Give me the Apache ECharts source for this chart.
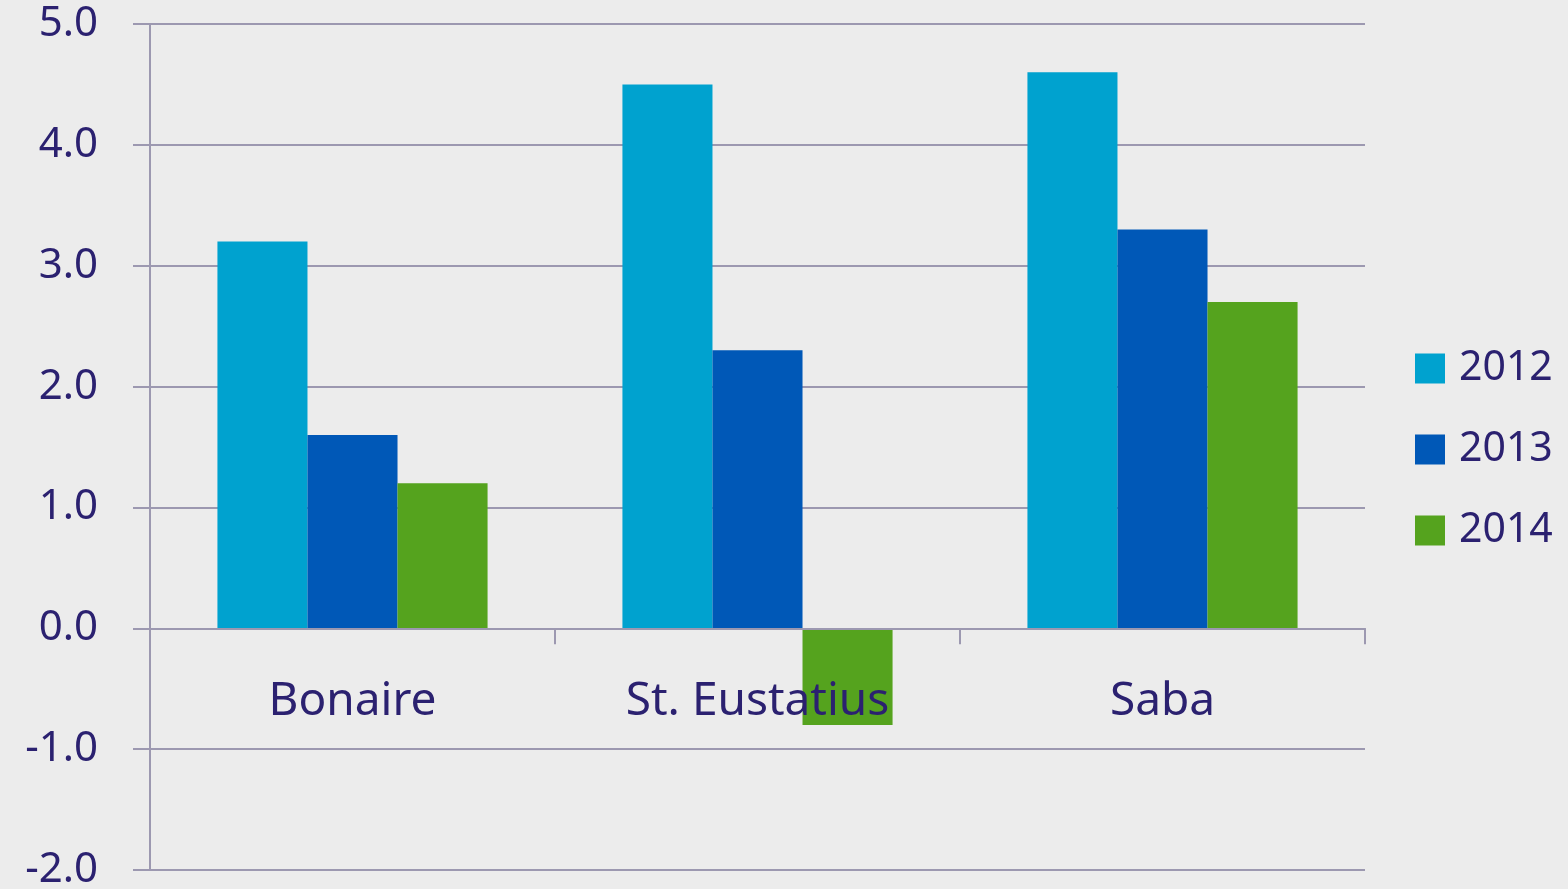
<!DOCTYPE html>
<html>
<head>
<meta charset="utf-8">
<title>Bonaire, St. Eustatius, Saba</title>
<script src="https://cdn.jsdelivr.net/npm/echarts@6/dist/echarts.min.js"></script>
<style>
  html, body { margin: 0; padding: 0; background: #ececec; }
  #main { width: 1568px; height: 889px; }
</style>
</head>
<body>
<div id="main"></div>
<script>
// data
var islands = ['Bonaire', 'St. Eustatius', 'Saba'];
var years = ['2012', '2013', '2014'];
var values2012 = [3.2, 4.5, 4.6];
var values2013 = [1.6, 2.3, 3.3];
var values2014 = [1.2, -0.8, 2.7];
var yTicks = [-2, -1, 0, 1, 2, 3, 4, 5];

var colors = ['#00a2cf', '#0058b7', '#55a31e'];
var textColor = '#2b2170';
var lineColor = '#9c98b0';
var font = 'Noto Sans';

var myChart = echarts.init(document.getElementById('main'));

var option = {
  backgroundColor: '#ececec',
  animation: false,
  color: colors,
  grid: {
    left: 150,
    right: 203,
    top: 24,
    bottom: 19,
    containLabel: false,
    outerBoundsMode: 'none'
  },
  legend: {
    orient: 'vertical',
    left: 1415,
    top: 348,
    padding: 0,
    itemWidth: 30,
    itemHeight: 30,
    itemGap: 40,
    icon: 'rect',
    data: years,
    textStyle: {
      color: textColor,
      fontFamily: font,
      fontSize: 41,
      padding: [0, 0, 0, 9]
    }
  },
  xAxis: {
    type: 'category',
    data: islands,
    z: 10,
    axisLine: {
      onZero: true,
      lineStyle: { color: lineColor, width: 2 }
    },
    axisTick: {
      show: true,
      length: 16,
      lineStyle: { color: lineColor, width: 2 }
    },
    axisLabel: {
      // labels stay at the grid bottom, pull them up under the zero line
      margin: -191,
      color: textColor,
      fontFamily: font,
      fontSize: 46
    }
  },
  yAxis: {
    type: 'value',
    min: yTicks[0],
    max: yTicks[yTicks.length - 1],
    interval: 1,
    axisLine: {
      show: true,
      lineStyle: { color: lineColor, width: 2 }
    },
    axisTick: {
      show: true,
      length: 17,
      lineStyle: { color: lineColor, width: 2 }
    },
    splitLine: {
      lineStyle: { color: lineColor, width: 2 }
    },
    axisLabel: {
      margin: 52,
      color: textColor,
      fontFamily: font,
      fontSize: 42,
      formatter: function (v) { return v.toFixed(1); }
    }
  },
  series: [
    { name: years[0], type: 'bar', data: values2012, barGap: '0%', barCategoryGap: '33.3%' },
    { name: years[1], type: 'bar', data: values2013, barGap: '0%', barCategoryGap: '33.3%' },
    { name: years[2], type: 'bar', data: values2014, barGap: '0%', barCategoryGap: '33.3%' }
  ]
};

myChart.setOption(option);
</script>
</body>
</html>
